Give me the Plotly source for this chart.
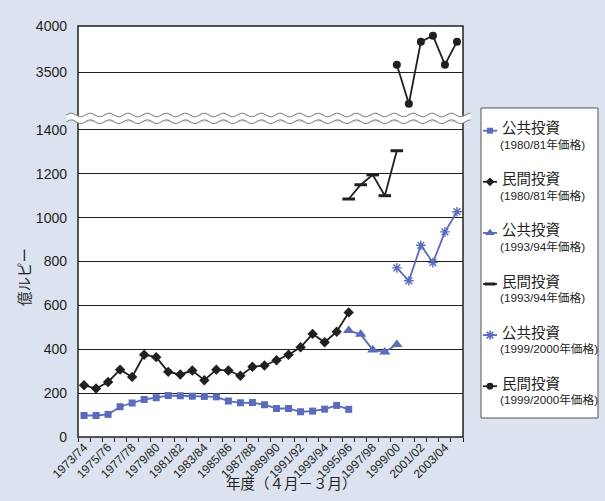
import numpy as np
import plotly.graph_objects as go

# ---- data (億ルピー) ----
fiscal_years = [
    "1973/74", "1974/75", "1975/76", "1976/77", "1977/78", "1978/79", "1979/80", "1980/81",
    "1981/82", "1982/83", "1983/84", "1984/85", "1985/86", "1986/87", "1987/88", "1988/89",
    "1989/90", "1990/91", "1991/92", "1992/93", "1993/94", "1994/95", "1995/96", "1996/97",
    "1997/98", "1998/99", "1999/00", "2000/01", "2001/02", "2002/03", "2003/04", "2004/05",
]
tick_labels = [
    "1973/74", "", "1975/76", "", "1977/78", "", "1979/80", "",
    "1981/82", "", "1983/84", "", "1985/86", "", "1987/88", "",
    "1989/90", "", "1991/92", "", "1993/94", "", "1995/96", "",
    "1997/98", "", "1999/00", "", "2001/02", "", "2003/04", "",
]

years_8081 = fiscal_years[0:23]
public_8081 = [98, 98, 103, 138, 155, 171, 179, 189, 188, 186, 185, 183,
               164, 156, 157, 147, 130, 130, 115, 118, 127, 144, 126]
private_8081 = [236, 221, 251, 307, 274, 375, 364, 297, 285, 303, 259, 307,
                303, 279, 320, 326, 350, 375, 409, 470, 432, 480, 568]

years_9394 = fiscal_years[22:27]
public_9394 = [485, 468, 397, 388, 422]
private_9394 = [1085, 1150, 1195, 1100, 1305]

years_9900 = fiscal_years[26:32]
public_9900 = [771, 712, 874, 795, 935, 1027]
private_9900 = [3580, 3155, 3830, 3895, 3580, 3830]

low_ticks = [0, 200, 400, 600, 800, 1000, 1200, 1400]
high_ticks = [3500, 4000]

# ---- styling ----
W, H = 605, 501
BLUE = "#5a6bbb"
INK = "#231f20"
BG = "#dde2f0"
FONT = "Arial, 'Liberation Sans', 'Noto Sans CJK JP', sans-serif"


def px(x):
    return x / W


def py(y):
    return (H - y) / H


legend_entries = [
    ("公共投資", "(1980/81年価格)", BLUE, "square", 7, 0),
    ("民間投資", "(1980/81年価格)", INK, "diamond", 8, 0),
    ("公共投資", "(1993/94年価格)", BLUE, "triangle-up", 10, 0),
    ("民間投資", "(1993/94年価格)", INK, "line-ew", 9, 3),
    ("公共投資", "(1999/2000年価格)", BLUE, "asterisk", 9, 1.5),
    ("民間投資", "(1999/2000年価格)", INK, "circle", 8, 0),
]

fig = go.Figure()


def add_series(x, y, color, symbol, size, lw, yaxis="y"):
    marker = dict(symbol=symbol, size=size, color=color,
                  line=dict(color=color, width=lw))
    fig.add_trace(go.Scatter(
        x=x, y=y, mode="lines+markers", yaxis=yaxis, xaxis="x",
        line=dict(color=color, width=1.8), marker=marker, showlegend=False,
        cliponaxis=False,
    ))


add_series(years_8081, public_8081, BLUE, "square", 7, 0)
add_series(years_8081, private_8081, INK, "diamond", 8, 0)
add_series(years_9394, public_9394, BLUE, "triangle-up", 10, 0)
add_series(years_9394, private_9394, INK, "line-ew", 9, 3)
add_series(years_9900, public_9900, BLUE, "asterisk", 8, 1.4)
add_series(years_9900, private_9900, INK, "circle", 8, 0, yaxis="y2")

# legend samples drawn on their own hidden axes
LEG_X0, LEG_X1, LEG_Y0, LEG_Y1 = 481, 598, 108, 418
for i, (name, sub, color, symbol, size, lw) in enumerate(legend_entries):
    yc = 130.7 + i * 51.1
    fig.add_trace(go.Scatter(
        x=[483, 497], y=[yc, yc], mode="lines", xaxis="x3", yaxis="y3",
        line=dict(color=color, width=1.8), showlegend=False, hoverinfo="skip",
    ))
    fig.add_trace(go.Scatter(
        x=[490], y=[yc], mode="markers", xaxis="x3", yaxis="y3",
        marker=dict(symbol=symbol, size=size * 0.85, color=color,
                    line=dict(color=color, width=lw)),
        showlegend=False, hoverinfo="skip",
    ))
    fig.add_annotation(x=500, y=yc - 2.5, xref="x3", yref="y3", text=name,
                       showarrow=False, xanchor="left", yanchor="middle",
                       font=dict(size=14.5, color=INK, family=FONT))
    fig.add_annotation(x=498, y=yc + 13.5, xref="x3", yref="y3", text=sub,
                       showarrow=False, xanchor="left", yanchor="middle",
                       font=dict(size=11.7, color=INK, family=FONT))

# plot frame
PX0, PX1, PY0, PY1 = 78, 463, 26, 437
shapes = [
    dict(type="rect", xref="paper", yref="paper", x0=px(PX0), x1=px(PX1),
         y0=py(PY1), y1=py(PY0), line=dict(color=INK, width=1.5), layer="above"),
    dict(type="rect", xref="paper", yref="paper", x0=px(LEG_X0), x1=px(LEG_X1),
         y0=py(LEG_Y1), y1=py(LEG_Y0), line=dict(color="#555555", width=1),
         fillcolor="white", layer="below"),
]

# axis break: white band bounded by two wavy lines
wx = np.arange(66.5, 471.0, 1.0)
period, amp = 19.0, 1.8
top_wave = 115.0 + amp * np.sin(2 * np.pi * (wx - 66.5) / period + np.pi)
bot_wave = 121.7 + amp * np.sin(2 * np.pi * (wx - 66.5) / period + np.pi)


def path_of(xs, ys):
    pts = [f"{px(a):.5f},{py(b):.5f}" for a, b in zip(xs, ys)]
    return "M" + " L".join(pts)


band = path_of(np.concatenate([wx, wx[::-1]]),
               np.concatenate([top_wave, bot_wave[::-1]])) + " Z"
shapes.append(dict(type="path", xref="paper", yref="paper", path=band,
                   fillcolor="white", line=dict(width=0), layer="above"))
for wave in (top_wave, bot_wave):
    shapes.append(dict(type="path", xref="paper", yref="paper",
                       path=path_of(wx, wave),
                       line=dict(color="#8a8a8a", width=1.1), layer="above"))

tick_font = dict(size=14, color=INK, family=FONT)
fig.update_layout(
    width=W, height=H,
    margin=dict(l=0, r=0, t=0, b=0),
    paper_bgcolor=BG, plot_bgcolor="white",
    showlegend=False,
    shapes=shapes,
    xaxis=dict(
        domain=[px(PX0), px(PX1)], type="category",
        categoryorder="array", categoryarray=fiscal_years,
        range=[-0.5, len(fiscal_years) - 0.5],
        tickmode="array", tickvals=fiscal_years, ticktext=tick_labels,
        tickson="boundaries", ticks="outside", ticklen=4, tickcolor=INK,
        tickwidth=1, tickangle=-45,
        tickfont=dict(size=12, color=INK, family=FONT),
        showgrid=False, showline=False, zeroline=False, anchor="y",
        fixedrange=True, automargin=False,
    ),
    yaxis=dict(
        domain=[py(PY1), py(122)], range=[0, 1436],
        tickmode="array", tickvals=low_ticks, tickfont=tick_font,
        showgrid=True, gridcolor=INK, gridwidth=1, zeroline=False,
        showline=False, ticks="", ticklabelstandoff=10, anchor="x",
        automargin=False,
    ),
    yaxis2=dict(
        domain=[py(116), py(PY0)], range=[3022, 4000],
        tickmode="array", tickvals=high_ticks, tickfont=tick_font,
        showgrid=True, gridcolor=INK, gridwidth=1, zeroline=False,
        showline=False, ticks="", ticklabelstandoff=10, anchor="x",
        automargin=False,
    ),
    xaxis3=dict(domain=[px(LEG_X0), px(LEG_X1)], range=[LEG_X0, LEG_X1],
                visible=False, anchor="y3", fixedrange=True, automargin=False),
    yaxis3=dict(domain=[py(LEG_Y1), py(LEG_Y0)], range=[LEG_Y1, LEG_Y0],
                visible=False, anchor="x3", fixedrange=True, automargin=False),
)

fig.add_annotation(text="億ルピー", x=px(25), y=py(277), xref="paper", yref="paper",
                   xanchor="center", yanchor="middle",
                   textangle=-90, showarrow=False,
                   font=dict(size=14.5, color=INK, family=FONT))
fig.add_annotation(text="年度（４月－３月）", x=px(291), y=py(484), xref="paper",
                   yref="paper", xanchor="center", yanchor="middle",
                   showarrow=False,
                   font=dict(size=14.5, color=INK, family=FONT))

fig.write_html("out.html")
